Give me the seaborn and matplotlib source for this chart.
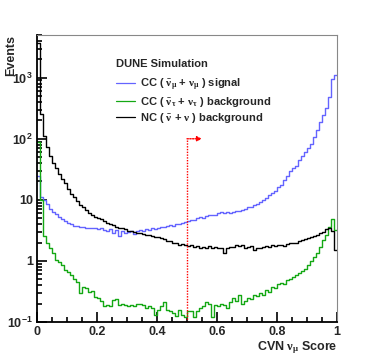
import matplotlib

matplotlib.use("Agg")

import matplotlib.pyplot as plt
from matplotlib.lines import Line2D
from matplotlib.ticker import FixedLocator, FixedFormatter, LogLocator, MultipleLocator
import numpy as np
import pandas as pd
import seaborn as sns

# --- data (100 bins of CVN numu score) ---
n_bins = 100
cut_value = 0.5

signal_numu = [
    25, 11, 10, 8.5, 7.2, 6.3, 5.8, 5.2, 4.8, 4.5,
    4.2, 4.0, 3.8, 3.7, 3.6, 3.6, 3.5, 3.5, 3.4, 3.5,
    3.3, 3.4, 3.2, 3.1, 3.3, 2.9, 3.2, 2.6, 3.1, 2.9,
    3.0, 3.1, 2.8, 3.1, 3.2, 3.1, 3.3, 3.2, 3.4, 3.3,
    3.5, 3.6, 3.6, 3.8, 3.9, 3.8, 4.0, 4.1, 4.2, 4.3,
    4.5, 4.7, 4.6, 5.0, 5.3, 5.1, 5.4, 5.6, 5.7, 5.6,
    6.0, 6.3, 6.1, 6.4, 6.2, 6.3, 6.5, 6.6, 6.9, 7.2,
    7.5, 7.7, 8.1, 8.6, 9.2, 9.9, 10.8, 11.8, 12.8, 14.2,
    16, 17.8, 21, 25, 30, 33, 36, 45, 52, 60,
    70, 82, 108, 140, 190, 245, 320, 490, 940, 1100,
]

bkg_nutau = [
    90, 10, 2.6, 2.0, 1.6, 1.35, 1.05, 0.95, 0.85, 0.72,
    0.66, 0.58, 0.5, 0.45, 0.30, 0.38, 0.36, 0.31, 0.32, 0.26,
    0.25, 0.22, 0.18, 0.19, 0.18, 0.23, 0.24, 0.19, 0.2, 0.19,
    0.18, 0.19, 0.18, 0.2, 0.2, 0.19, 0.17, 0.18, 0.17, 0.13,
    0.16, 0.18, 0.21, 0.16, 0.15, 0.14, 0.125, 0.16, 0.13, 0.12,
    0.15, 0.15, 0.12, 0.15, 0.17, 0.18, 0.21, 0.2, 0.12, 0.19,
    0.18, 0.2, 0.19, 0.17, 0.21, 0.25, 0.22, 0.28, 0.2, 0.22,
    0.25, 0.24, 0.28, 0.27, 0.3, 0.28, 0.33, 0.31, 0.37, 0.36,
    0.42, 0.44, 0.42, 0.49, 0.5, 0.55, 0.58, 0.64, 0.68, 0.75,
    0.85, 1.0, 1.17, 1.35, 1.7, 2.2, 2.7, 3.6, 4.9, 3.2,
]

bkg_nc = [
    3700, 250, 110, 72, 52, 40, 33, 27, 22, 19,
    15, 12.5, 11, 9.5, 8.3, 7.5, 6.8, 6.2, 5.7, 5.3,
    5.0, 4.8, 4.5, 4.2, 4.0, 3.9, 3.6, 3.5, 3.4, 3.3,
    3.1, 3.1, 3.0, 2.9, 2.9, 2.8, 2.7, 2.7, 2.6, 2.5,
    2.5, 2.4, 2.3, 2.1, 2.1, 2.0, 1.95, 1.85, 1.9, 1.8,
    1.75, 1.85, 1.7, 1.75, 1.65, 1.7, 1.6, 1.75, 1.65, 1.7,
    1.6, 1.65, 1.35, 1.6, 1.7, 1.7, 1.8, 1.75, 1.8, 1.65,
    1.7, 1.75, 1.5, 1.6, 1.65, 1.7, 1.75, 1.7, 1.8, 1.75,
    1.8, 1.85, 1.75, 1.9, 1.95, 2.0, 2.0, 2.1, 2.2, 2.3,
    2.4, 2.5, 2.6, 2.7, 2.9, 3.0, 3.3, 3.4, 3.1, 1.5,
]

labels = [
    r"CC ( $\bar{\nu}_{\mu}$ + $\nu_{\mu}$ ) signal",
    r"CC ( $\bar{\nu}_{\tau}$ + $\nu_{\tau}$ ) background",
    r"NC ( $\bar{\nu}$ + $\nu$ ) background",
]
colors = ["#6464ff", "#14a814", "black"]

x_ticks = [0, 0.2, 0.4, 0.6, 0.8, 1]
x_ticklabels = ["0", "0.2", "0.4", "0.6", "0.8", "1"]
y_ticks = [0.1, 1, 10, 100, 1000]
y_ticklabels = [r"$\mathbf{10^{-1}}$", "1", "10", r"$\mathbf{10^{2}}$", r"$\mathbf{10^{3}}$"]


def main():
    sns.set_style("ticks")
    plt.rcParams["font.family"] = ["Liberation Sans", "DejaVu Sans"]
    plt.rcParams["font.weight"] = "bold"
    plt.rcParams["mathtext.fontset"] = "custom"
    plt.rcParams["mathtext.rm"] = "Liberation Serif"
    plt.rcParams["mathtext.it"] = "Liberation Serif"
    plt.rcParams["mathtext.bf"] = "Liberation Sans:bold"

    edges = np.linspace(0, 1, n_bins + 1)
    centers = 0.5 * (edges[:-1] + edges[1:])
    df = pd.DataFrame({
        "score": np.tile(centers, 3),
        "events": np.array(signal_numu + bkg_nutau + bkg_nc, dtype=float),
        "sample": np.repeat(labels, n_bins),
    })

    fig = plt.figure(figsize=(3.74, 3.59), dpi=100)
    ax = fig.add_axes([0.099, 0.103, 0.802, 0.7995])

    for lab, col in zip(labels, colors):
        sub = df[df["sample"] == lab]
        sns.histplot(
            data=sub,
            x="score",
            weights="events",
            bins=n_bins,
            binrange=(0, 1),
            element="step",
            fill=False,
            color=col,
            linewidth=1.0,
            ax=ax,
        )

    ax.set_yscale("log")
    ax.set_xlim(0, 1)
    ax.set_ylim(0.1, 5000)

    # cut arrow
    ax.plot([cut_value, cut_value], [0.1, 100], color="red", ls=(0, (1, 1)), lw=1.0)
    ax.annotate(
        "",
        xy=(cut_value + 0.05, 100),
        xytext=(cut_value, 100),
        arrowprops=dict(arrowstyle="-|>", color="red", ls=(0, (1, 1)), lw=1.0,
                        mutation_scale=7, shrinkA=0, shrinkB=0),
    )

    ax.xaxis.set_major_locator(FixedLocator(x_ticks))
    ax.xaxis.set_major_formatter(FixedFormatter(x_ticklabels))
    ax.xaxis.set_minor_locator(MultipleLocator(0.05))
    ax.yaxis.set_major_locator(FixedLocator(y_ticks))
    ax.yaxis.set_major_formatter(FixedFormatter(y_ticklabels))
    ax.yaxis.set_minor_locator(LogLocator(base=10, subs=np.arange(2, 10)))
    ax.yaxis.set_minor_formatter(FixedFormatter([]))

    ax.tick_params(which="both", direction="in", top=False, right=False,
                   labelsize=9, width=1.2, color="black")
    ax.tick_params(which="major", length=7, pad=3)
    ax.tick_params(which="minor", length=3.5)

    for side in ["left", "bottom"]:
        ax.spines[side].set_color("black")
        ax.spines[side].set_linewidth(1.3)
    for side in ["top", "right"]:
        ax.spines[side].set_color("#888888")
        ax.spines[side].set_linewidth(0.8)

    ax.set_xlabel(r"CVN $\nu_{\mu}$ Score", loc="right", fontsize=9,
                  fontweight="bold", labelpad=1)
    ax.set_ylabel("Events", loc="top", fontsize=9, fontweight="bold")
    ax.yaxis.set_label_coords(-0.068, 1.0)

    # legend title drawn on its own so the gap to the entries matches
    ax.text(0.262, 0.899, "DUNE Simulation", transform=ax.transAxes,
            ha="left", va="center", fontsize=8, fontweight="bold")

    handles = [Line2D([], [], color=c, lw=0.9) for c in colors]
    leg = ax.legend(
        handles, labels,
        loc="upper left",
        bbox_to_anchor=(0.23, 0.89),
        frameon=False,
        fontsize=8,
        handlelength=1.75,
        handletextpad=0.45,
        labelspacing=0.2,
    )
    for t in leg.get_texts():
        t.set_fontweight("bold")

    plt.savefig("out.png", dpi=100)
    plt.close()


if __name__ == "__main__":
    main()
